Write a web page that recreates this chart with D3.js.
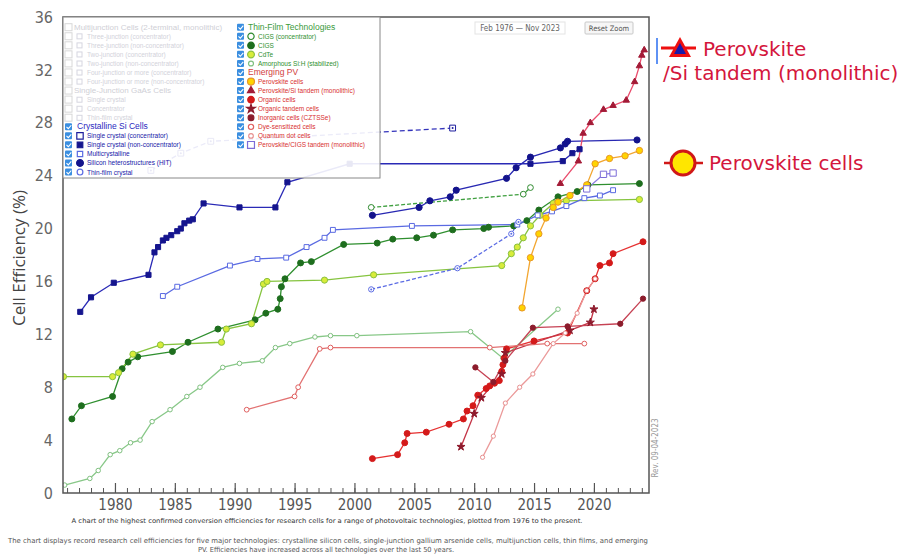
<!DOCTYPE html>
<html><head><meta charset="utf-8">
<script src="https://cdn.jsdelivr.net/npm/d3@7"></script>
<style>html,body{margin:0;padding:0;background:#fff;}svg{display:block;}</style>
</head><body>
<svg id="chart" width="911" height="556"></svg>
<script>
// ---------- axis ticks ----------
const yearTicks = [1980,1985,1990,1995,2000,2005,2010,2015,2020];
const minorYears = d3.range(1976, 2025);
const effTicks = [0,4,8,12,16,20,24,28,32,36];

// ---------- data: [year, efficiency %] ----------
const siConc = [[1983.0,24.4],[1985.5,25.7],[1988.0,26.6],[2008.2,27.6]];
const siNonConc = [[1977.1,13.7],[1978.0,14.8],[1979.9,15.9],[1982.8,16.5],[1983.3,18.2],[1983.6,18.6],[1984.0,19.1],[1984.3,19.3],[1984.7,19.5],[1985.2,19.8],[1985.5,20.0],[1985.8,20.4],[1986.2,20.6],[1986.5,20.7],[1987.4,21.9],[1990.4,21.6],[1993.4,21.6],[1994.4,23.5],[1999.6,24.9],[2014.7,24.9],[2017.4,25.1],[2018.2,25.7],[2018.8,26.0]];
const siMulti = [[1984.0,14.9],[1985.2,15.6],[1989.6,17.2],[1991.9,17.7],[1994.3,17.8],[1996.0,18.6],[1997.5,19.3],[1998.2,19.9],[2004.8,20.2],[2013.6,20.3],[2015.3,21.0],[2016.5,21.3],[2017.7,21.7],[2019.2,22.3],[2020.5,22.5],[2021.6,22.9]];
const siHIT = [[2001.5,21.0],[2005.4,21.6],[2006.3,22.1],[2008.0,22.4],[2008.5,22.9],[2012.7,23.8],[2013.5,24.6],[2014.7,25.4],[2017.2,26.1],[2017.6,26.4],[2017.8,26.6],[2023.6,26.7]];
const siThinFilm = [[2001.4,15.4],[2008.6,17.0],[2013.1,19.6],[2013.7,20.5]];
const cigsConc = [[2001.4,21.6],[2014.1,22.6],[2014.7,23.1]];
const cigs = [[1976.4,5.6],[1977.2,6.6],[1979.8,7.3],[1980.6,9.4],[1981.1,9.9],[1981.9,10.3],[1984.8,10.7],[1986.1,11.4],[1988.6,12.4],[1991.7,13.1],[1992.6,13.6],[1993.6,13.9],[1993.8,14.7],[1993.9,15.6],[1994.2,16.2],[1995.5,17.4],[1996.4,17.5],[1999.1,18.8],[2001.9,18.9],[2003.2,19.2],[2005.2,19.3],[2006.6,19.5],[2008.2,19.9],[2010.8,20.0],[2011.2,20.1],[2013.3,20.2],[2014.4,20.6],[2015.4,21.4],[2017.0,22.4],[2018.6,22.8],[2019.5,23.3],[2023.8,23.4]];
const cdte = [[1975.7,8.8],[1979.8,8.8],[1980.3,9.1],[1981.5,10.5],[1983.8,11.2],[1988.9,11.4],[1989.3,12.4],[1991.4,12.8],[1992.4,15.8],[1992.7,16.0],[1997.5,16.1],[2001.6,16.5],[2012.3,17.2],[2013.1,18.1],[2013.6,18.6],[2014.1,19.3],[2014.7,20.2],[2015.5,21.0],[2016.6,21.9],[2017.7,22.1],[2023.8,22.2]];
const aSi = [[1975.8,0.6],[1977.9,1.1],[1978.6,1.7],[1979.6,2.9],[1980.4,3.2],[1981.3,3.8],[1982.1,4.0],[1983.1,5.4],[1984.6,6.3],[1986.0,7.3],[1987.1,8.0],[1989.0,9.5],[1990.4,9.8],[1992.3,10.0],[1993.4,11.0],[1994.6,11.3],[1996.7,11.8],[1998.0,11.9],[2000.2,11.9],[2009.7,12.2],[2012.4,10.2],[2017.0,13.9]];
const perovskite = [[2014.0,14.0],[2014.7,17.8],[2015.4,19.6],[2016.0,20.8],[2016.6,21.6],[2017.0,22.0],[2018.0,22.5],[2019.4,23.3],[2020.1,24.9],[2021.3,25.3],[2022.6,25.5],[2023.8,25.9]];
const perovskiteSi = [[2017.2,23.4],[2018.7,25.1],[2019.1,27.2],[2019.7,28.0],[2020.8,29.0],[2021.6,29.3],[2022.7,29.7],[2023.4,31.1],[2023.8,32.3],[2024.0,33.1],[2024.2,33.5]];
const organic = [[2001.5,2.6],[2003.6,2.9],[2004.2,3.8],[2004.4,4.5],[2006.0,4.6],[2007.9,5.2],[2009.1,5.6],[2009.4,6.2],[2009.9,6.6],[2010.3,7.4],[2011.0,7.9],[2011.3,8.1],[2011.7,8.3],[2012.1,8.5],[2012.3,9.2],[2012.4,9.7],[2012.5,10.2],[2012.7,10.9],[2015.0,11.5],[2017.8,12.1],[2019.4,15.3],[2020.1,16.2],[2020.5,17.2],[2021.3,17.4],[2021.6,18.1],[2024.1,19.0]];
const organicTandem = [[2008.9,3.5],[2010.0,6.0],[2010.6,7.2],[2012.3,9.0],[2012.6,10.6],[2018.0,12.3],[2019.7,12.9],[2020.0,13.9]];
const cztsse = [[2010.1,9.5],[2011.6,8.4],[2012.6,10.0],[2014.9,12.5],[2017.8,12.6],[2022.2,12.8],[2024.1,14.7]];
const dye = [[1991.0,6.3],[1995.0,7.3],[1995.3,8.0],[1997.1,10.9],[1998.0,11.0],[2011.3,11.0],[2016.1,11.3],[2019.2,11.3]];
const quantumDot = [[2010.7,2.7],[2011.6,4.3],[2012.6,6.8],[2013.8,8.0],[2014.9,9.0],[2016.6,11.3],[2017.6,12.1],[2018.6,13.6],[2019.4,15.3],[2020.1,16.2]];
const perovskiteCigs = [[2019.4,23.0],[2020.8,24.1],[2021.6,24.2]];

// ---------- legend text ----------
const legendFadedLabels = ["Multijunction Cells (2-terminal, monolithic)","Three-junction (concentrator)","Three-junction (non-concentrator)","Two-junction (concentrator)","Two-junction (non-concentrator)","Four-junction or more (concentrator)","Four-junction or more (non-concentrator)","Single-Junction GaAs Cells","Single crystal","Concentrator","Thin-film crystal"];
const legendFadedHeaders = [0,7];
const legendSiLabels = ["Single crystal (concentrator)","Single crystal (non-concentrator)","Multicrystalline","Silicon heterostructures (HIT)","Thin-film crystal"];
const legendThinFilmLabels = ["CIGS (concentrator)","CIGS","CdTe","Amorphous Si:H (stabilized)"];
const legendEmergingLabels = ["Perovskite cells","Perovskite/Si tandem (monolithic)","Organic cells","Organic tandem cells","Inorganic cells (CZTSSe)","Dye-sensitized cells","Quantum dot cells","Perovskite/CIGS tandem (monolithic)"];

// ---------- styles built from the arrays ----------
const siSeries = [
  {data:siConc, line:'#3333bb', dash:'5,3', sym:'square', fill:'#ffffff', stroke:'#1e1e9e', size:34, dot:true},
  {data:siNonConc, line:'#2a2ab6', sym:'square', fill:'#15158e', stroke:'#15158e', size:26},
  {data:siMulti, line:'#5a6ae2', sym:'square', fill:'#ffffff', stroke:'#5a6ae2', size:24},
  {data:siHIT, line:'#2828b2', sym:'circle', fill:'#13138c', stroke:'#13138c', size:30},
  {data:siThinFilm, line:'#5c6ce4', dash:'4,2', sym:'circle', fill:'#ffffff', stroke:'#5c6ce4', size:22, dot:true}
];
const thinFilmSeries = [
  {data:cigsConc, line:'#3f9f3f', dash:'4,2', sym:'circle', fill:'#ffffff', stroke:'#2e8a2e', size:26},
  {data:cigs, line:'#2f8f2f', sym:'circle', fill:'#1e6e1e', stroke:'#1e6e1e', size:28},
  {data:cdte, line:'#86c440', sym:'circle', fill:'#d8ec3a', stroke:'#8ac040', size:30},
  {data:aSi, line:'#88c888', sym:'circle', fill:'#ffffff', stroke:'#80c080', size:16}
];
const emergingSeries = [
  {data:perovskite, line:'#f2a630', sym:'circle', fill:'#ffd400', stroke:'#e8962a', size:32},
  {data:perovskiteSi, line:'#ea4c6c', sym:'triangle', fill:'#a31a36', stroke:'#a31a36', size:18},
  {data:organic, line:'#e63232', sym:'circle', fill:'#d41a1a', stroke:'#d41a1a', size:28},
  {data:organicTandem, line:'#c43446', sym:'star', fill:'#8e1a2c', stroke:'#8e1a2c', size:20},
  {data:cztsse, line:'#c64254', sym:'circle', fill:'#8c1c2c', stroke:'#8c1c2c', size:22},
  {data:dye, line:'#e27272', sym:'circle', fill:'#ffffff', stroke:'#e06060', size:18},
  {data:quantumDot, line:'#eb9a9a', sym:'circle', fill:'#ffffff', stroke:'#e89090', size:14},
  {data:perovskiteCigs, line:'#8c7ce0', sym:'square', fill:'#ffffff', stroke:'#7c6cd8', size:40}
];
const allSeries = [...thinFilmSeries, ...siSeries, ...emergingSeries];
const symTypes = {circle:d3.symbolCircle, square:d3.symbolSquare, triangle:d3.symbolTriangle, star:d3.symbolStar};

// ---------- scales ----------
const svg = d3.select('#chart');
const L = 63, R = 649, T = 17, B = 493;
const x = d3.scaleLinear().domain([1975.66, 2024.6]).range([L, R]);
const y = d3.scaleLinear().domain([0, 36]).range([B, T]);
const narrow = "'Liberation Sans Narrow','DejaVu Sans Condensed','Arial Narrow',sans-serif";

svg.append('defs').append('clipPath').attr('id','plotClip')
  .append('rect').attr('x',L).attr('y',T).attr('width',R-L).attr('height',B-T);

// ---------- data lines & markers ----------
const plot = svg.append('g').attr('clip-path','url(#plotClip)');
const lineGen = d3.line().x(d => x(d[0])).y(d => y(d[1]));
allSeries.forEach(s => {
  plot.append('path').datum(s.data).attr('d', lineGen)
    .attr('fill','none').attr('stroke', s.line).attr('stroke-width',1.3)
    .attr('stroke-dasharray', s.dash || null);
});
allSeries.forEach(s => {
  const g = plot.append('g');
  g.selectAll('path').data(s.data).join('path')
    .attr('transform', d => `translate(${x(d[0])},${y(d[1])})`)
    .attr('d', d3.symbol().type(symTypes[s.sym]).size(s.size))
    .attr('fill', s.fill).attr('stroke', s.stroke).attr('stroke-width', 1);
  if (s.dot) g.selectAll('circle').data(s.data).join('circle')
    .attr('cx', d => x(d[0])).attr('cy', d => y(d[1])).attr('r', 1).attr('fill', s.stroke);
});

// ---------- axes ----------
const xMinor = d3.axisBottom(x).tickValues(minorYears).tickSize(-5).tickFormat('');
const xMajor = d3.axisBottom(x).tickValues(yearTicks).tickSize(-10).tickPadding(6).tickFormat(d3.format('d'));
svg.append('g').attr('transform',`translate(0,${B})`).call(xMinor)
  .call(g => g.select('.domain').remove())
  .call(g => g.selectAll('line').attr('stroke','#555').attr('stroke-width',1));
svg.append('g').attr('transform',`translate(0,${B})`).call(xMajor)
  .call(g => g.select('.domain').remove())
  .call(g => g.selectAll('line').attr('stroke','#555').attr('stroke-width',1.2))
  .call(g => g.selectAll('text').attr('fill','#555').style('font-family',narrow).style('font-size','15px'));
const yAx = d3.axisLeft(y).tickValues(effTicks).tickSize(0).tickPadding(10).tickFormat(d3.format('d'));
svg.append('g').attr('transform',`translate(${L},0)`).call(yAx)
  .call(g => g.select('.domain').remove())
  .call(g => g.selectAll('text').attr('fill','#666').style('font-family',narrow).style('font-size','16px'));

// frame
svg.append('rect').attr('x',L).attr('y',T).attr('width',R-L).attr('height',B-T)
  .attr('fill','none').attr('stroke','#555').attr('stroke-width',1.5);

// y title
svg.append('text').attr('transform',`translate(25,258) rotate(-90)`)
  .attr('text-anchor','middle').attr('fill','#444')
  .style('font-family',"'Open Sans',sans-serif").style('font-size','17px')
  .text('Cell Efficiency (%)');

// revision note
svg.append('text').attr('transform',`translate(658,448) rotate(-90)`)
  .attr('text-anchor','middle').attr('fill','#999')
  .style('font-family',narrow).style('font-size','8px').text('Rev. 09-04-2023');

// date range and reset button
svg.append('rect').attr('x',475).attr('y',22).attr('width',90).attr('height',12).attr('fill','#fff').attr('stroke','#e4e4e4');
svg.append('text').attr('x',520).attr('y',31).attr('text-anchor','middle').attr('fill','#666')
  .style('font-family',narrow).style('font-size','8px').text('Feb 1976  \u2014  Nov 2023');
svg.append('rect').attr('x',585).attr('y',22).attr('width',48).attr('height',12).attr('fill','#f6f6f6').attr('stroke','#c8c8c8').attr('rx',1);
svg.append('text').attr('x',609).attr('y',31).attr('text-anchor','middle').attr('fill','#555')
  .style('font-family',narrow).style('font-size','7.5px').text('Reset Zoom');

// ---------- legend ----------
const lg = svg.append('g');
lg.append('rect').attr('x',L).attr('y',T).attr('width',380-L).attr('height',178-T)
  .attr('fill','#fff').attr('fill-opacity',0.9).attr('stroke','#888').attr('stroke-width',1);
const rowY = i => 27.3 + i*9.05;
function checkbox(xc, yc, on){
  if (on) {
    lg.append('rect').attr('x',xc).attr('y',yc-3.6).attr('width',7).attr('height',7).attr('rx',1).attr('fill','#3a8ee0');
    lg.append('path').attr('d',`M${xc+1.5},${yc} l1.8,1.8 l3,-3.4`).attr('fill','none').attr('stroke','#fff').attr('stroke-width',1.1);
  } else {
    lg.append('rect').attr('x',xc).attr('y',yc-3.6).attr('width',7).attr('height',7).attr('fill','#fff').attr('stroke','#d8d8d8');
  }
}
function legendMarker(xc, yc, s){
  lg.append('path').attr('transform',`translate(${xc},${yc})`)
    .attr('d', d3.symbol().type(symTypes[s.sym]).size(s.size*1.2))
    .attr('fill', s.fill).attr('stroke', s.stroke).attr('stroke-width',1.2);
}
function legendText(xc, yc, txt, color, size){
  lg.append('text').attr('x',xc).attr('y',yc+2.4).attr('fill',color)
    .style('font-family',"'Liberation Sans',Arial,sans-serif").style('font-size',size+'px').text(txt);
}
// faded multijunction / GaAs
legendFadedLabels.forEach((t,i) => {
  const yc = rowY(i);
  checkbox(65, yc, false);
  if (legendFadedHeaders.includes(i)) legendText(74, yc, t, '#cfcfd6', 8);
  else {
    lg.append('rect').attr('x',77).attr('y',yc-2.5).attr('width',5).attr('height',5).attr('fill','none').attr('stroke','#d6d6e0');
    legendText(87, yc, t, '#d2d2da', 6.5);
  }
});
// crystalline Si
checkbox(65, rowY(11), true);
legendText(77, rowY(11), 'Crystalline Si Cells', '#2a2ac0', 8.5);
legendSiLabels.forEach((t,i) => {
  const yc = rowY(12+i);
  checkbox(65, yc, true);
  legendMarker(80, yc, siSeries[i]);
  legendText(87, yc, t, '#2020a8', 6.5);
});
// thin film
checkbox(237, rowY(0), true);
legendText(248, rowY(0), 'Thin-Film Technologies', '#3a9a3a', 8.5);
legendThinFilmLabels.forEach((t,i) => {
  const yc = rowY(1+i);
  checkbox(237, yc, true);
  legendMarker(251, yc, thinFilmSeries[i]);
  legendText(258, yc, t, '#2f8f2f', 6.5);
});
checkbox(237, rowY(5), true);
legendText(248, rowY(5), 'Emerging PV', '#d23c3c', 8.5);
legendEmergingLabels.forEach((t,i) => {
  const yc = rowY(6+i);
  checkbox(237, yc, true);
  legendMarker(251, yc, emergingSeries[i]);
  legendText(258, yc, t, '#d83030', 6.5);
});

// ---------- right-side annotations ----------
const red = '#d4163c';
svg.append('line').attr('x1',657).attr('x2',657).attr('y1',38).attr('y2',64).attr('stroke','#2a6ef0').attr('stroke-width',1.5);
svg.append('line').attr('x1',661).attr('x2',696).attr('y1',48).attr('y2',48).attr('stroke','#ee1010').attr('stroke-width',3);
svg.append('path').attr('d','M680,37 L691,57 L669,57 Z').attr('fill','#ee1010');
svg.append('path').attr('d','M680,43 L686,54 L674,54 Z').attr('fill','#1a1aa8');
svg.append('text').attr('x',703).attr('y',56).attr('fill',red)
  .style('font-family',"'DejaVu Sans',sans-serif").style('font-size','20px').text('Perovskite');
svg.append('text').attr('x',663).attr('y',80).attr('fill',red)
  .style('font-family',"'DejaVu Sans',sans-serif").style('font-size','20px').text('/Si tandem (monolithic)');
svg.append('line').attr('x1',664).attr('x2',703).attr('y1',163).attr('y2',163).attr('stroke','#d01818').attr('stroke-width',2.5);
svg.append('circle').attr('cx',683).attr('cy',163).attr('r',12).attr('fill','#ffe600').attr('stroke','#d01818').attr('stroke-width',3);
svg.append('text').attr('x',709).attr('y',170).attr('fill',red)
  .style('font-family',"'DejaVu Sans',sans-serif").style('font-size','20px').text('Perovskite cells');

// ---------- captions ----------
svg.append('text').attr('x',327).attr('y',523).attr('text-anchor','middle').attr('fill','#333')
  .attr('textLength',511).attr('lengthAdjust','spacingAndGlyphs')
  .style('font-family',narrow).style('font-size','6.5px')
  .text('A chart of the highest confirmed conversion efficiencies for research cells for a range of photovoltaic technologies, plotted from 1976 to the present.');
svg.append('text').attr('x',328).attr('y',543).attr('text-anchor','middle').attr('fill','#555')
  .attr('textLength',640).attr('lengthAdjust','spacingAndGlyphs')
  .style('font-family',narrow).style('font-size','7px')
  .text('The chart displays record research cell efficiencies for five major technologies: crystalline silicon cells, single-junction gallium arsenide cells, multijunction cells, thin films, and emerging');
svg.append('text').attr('x',326).attr('y',552).attr('text-anchor','middle').attr('fill','#555')
  .attr('textLength',256).attr('lengthAdjust','spacingAndGlyphs')
  .style('font-family',narrow).style('font-size','7px')
  .text('PV. Efficiencies have increased across all technologies over the last 50 years.');
</script>
</body></html>
